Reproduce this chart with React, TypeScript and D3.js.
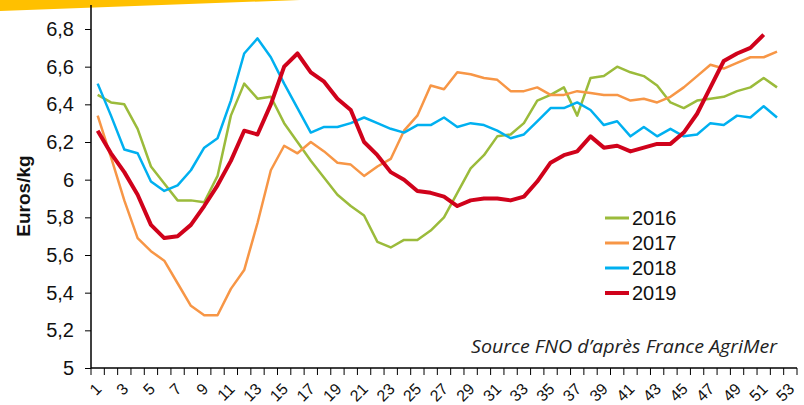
import { useEffect, useRef } from "react";
import * as d3 from "d3";

const weeks = [
  1, 2, 3, 4, 5, 6, 7, 8, 9, 10, 11, 12, 13, 14, 15, 16, 17, 18, 19, 20, 21, 22, 23, 24, 25, 26, 27,
  28, 29, 30, 31, 32, 33, 34, 35, 36, 37, 38, 39, 40, 41, 42, 43, 44, 45, 46, 47, 48, 49, 50, 51, 52, 53,
];
const yTicks = [5, 5.2, 5.4, 5.6, 5.8, 6, 6.2, 6.4, 6.6, 6.8];

const s2016 = [
  6.45, 6.41, 6.4, 6.27, 6.07, 5.98, 5.89, 5.89, 5.88, 6.02, 6.34, 6.51, 6.43, 6.44, 6.3, 6.2, 6.1,
  6.01, 5.92, 5.86, 5.81, 5.67, 5.64, 5.68, 5.68, 5.73, 5.8, 5.93, 6.06, 6.13, 6.23, 6.24, 6.3, 6.42,
  6.45, 6.49, 6.34, 6.54, 6.55, 6.6, 6.57, 6.55, 6.5, 6.41, 6.38, 6.42, 6.43, 6.44, 6.47, 6.49, 6.54, 6.49,
];
const s2017 = [
  6.34, 6.12, 5.89, 5.69, 5.62, 5.57, 5.45, 5.33, 5.28, 5.28, 5.42, 5.52, 5.77, 6.05, 6.18, 6.14, 6.2,
  6.15, 6.09, 6.08, 6.02, 6.07, 6.11, 6.26, 6.34, 6.5, 6.48, 6.57, 6.56, 6.54, 6.53, 6.47, 6.47, 6.49,
  6.45, 6.45, 6.47, 6.46, 6.45, 6.45, 6.42, 6.43, 6.41, 6.44, 6.49, 6.55, 6.61, 6.59, 6.62, 6.65, 6.65, 6.68,
];
const s2018 = [
  6.51, 6.34, 6.16, 6.14, 5.99, 5.94, 5.97, 6.05, 6.17, 6.22, 6.42, 6.67, 6.75, 6.65, 6.51, 6.38, 6.25,
  6.28, 6.28, 6.3, 6.33, 6.3, 6.27, 6.25, 6.29, 6.29, 6.33, 6.28, 6.3, 6.29, 6.26, 6.22, 6.24, 6.31,
  6.38, 6.38, 6.41, 6.37, 6.29, 6.31, 6.23, 6.28, 6.23, 6.27, 6.23, 6.24, 6.3, 6.29, 6.34, 6.33, 6.39, 6.33,
];
const s2019 = [
  6.26, 6.14, 6.04, 5.92, 5.76, 5.69, 5.7, 5.76, 5.86, 5.97, 6.1, 6.26, 6.24, 6.4, 6.6, 6.67, 6.57,
  6.52, 6.43, 6.37, 6.2, 6.13, 6.04, 6.0, 5.94, 5.93, 5.91, 5.86, 5.89, 5.9, 5.9, 5.89, 5.91, 5.99,
  6.09, 6.13, 6.15, 6.23, 6.17, 6.18, 6.15, 6.17, 6.19, 6.19, 6.25, 6.35, 6.49, 6.63, 6.67, 6.7, 6.77,
];

const seriesNames = ["2016", "2017", "2018", "2019"];
const seriesValues = [s2016, s2017, s2018, s2019];
const seriesColors = ["#9BBB3B", "#F79646", "#00B0F0", "#D0021B"];
const seriesWidths = [2.5, 2.5, 2.5, 4];

function App() {
  const chartRef = useRef<SVGSVGElement>(null);

  useEffect(() => {
    const width = 804;
    const height = 405;
    const svg = d3.select(chartRef.current);
    svg.selectAll("*").remove();
    svg.attr("width", width).attr("height", height);

    const font = "'Liberation Sans', Arial, sans-serif";

    // yellow banner top-left
    svg
      .append("path")
      .attr("d", "M0,0 L300,0 L0,11 Z")
      .attr("fill", "#FFC000");

    const x = d3
      .scaleBand<number>()
      .domain(weeks)
      .range([91, 797])
      .padding(0);
    const y = d3.scaleLinear().domain([5, 6.8]).range([368, 29]);

    // y axis
    const yAxis = d3
      .axisLeft(y)
      .tickValues(yTicks)
      .tickSize(6)
      .tickPadding(11)
      .tickSizeOuter(0)
      .tickFormat((d) => d3.format(".1~f")(d as number).replace(".", ","));
    const gy = svg.append("g").attr("transform", "translate(91,0)").call(yAxis);
    gy.select(".domain").remove();
    gy.selectAll("line").attr("stroke", "#000");
    gy.selectAll("text")
      .style("font-family", font)
      .style("font-size", "20px")
      .attr("fill", "#111");
    svg
      .append("line")
      .attr("x1", 91)
      .attr("x2", 91)
      .attr("y1", y(5))
      .attr("y2", 5)
      .attr("stroke", "#000")
      .attr("stroke-width", 1.5);

    // x axis: ticks at band boundaries, labels at centres
    const gx = svg.append("g");
    gx.append("line")
      .attr("x1", 91)
      .attr("x2", 797)
      .attr("y1", 368)
      .attr("y2", 368)
      .attr("stroke", "#000")
      .attr("stroke-width", 1.5);
    gx.selectAll("line.tick")
      .data(weeks)
      .enter()
      .append("line")
      .attr("class", "tick")
      .attr("x1", (d) => (x(d) as number) + x.bandwidth())
      .attr("x2", (d) => (x(d) as number) + x.bandwidth())
      .attr("y1", 368)
      .attr("y2", 375)
      .attr("stroke", "#000");
    gx.append("line")
      .attr("x1", 91)
      .attr("x2", 91)
      .attr("y1", 368)
      .attr("y2", 375)
      .attr("stroke", "#000");
    gx.selectAll("text")
      .data(weeks.filter((d) => d % 2 === 1))
      .enter()
      .append("text")
      .attr(
        "transform",
        (d) => `translate(${(x(d) as number) + x.bandwidth() / 2 + 5},${390}) rotate(-45)`
      )
      .attr("text-anchor", "end")
      .style("font-family", font)
      .style("font-size", "16px")
      .attr("fill", "#111")
      .text((d) => d);

    // y title
    svg
      .append("text")
      .attr("transform", "translate(30,196) rotate(-90)")
      .attr("text-anchor", "middle")
      .style("font-family", font)
      .style("font-size", "19px")
      .style("font-weight", "bold")
      .attr("fill", "#111")
      .text("Euros/kg");

    // lines
    const line = d3
      .line<number>()
      .x((d, i) => (x(weeks[i]) as number) + x.bandwidth() / 2)
      .y((d) => y(d));
    seriesValues.forEach((vals, k) => {
      svg
        .append("path")
        .datum(vals)
        .attr("fill", "none")
        .attr("stroke", seriesColors[k])
        .attr("stroke-width", seriesWidths[k])
        .attr("stroke-linejoin", "round")
        .attr("d", line);
    });

    // legend
    const lg = svg.append("g").attr("transform", "translate(605,218)");
    seriesNames.forEach((name, k) => {
      lg.append("line")
        .attr("x1", 0)
        .attr("x2", 24)
        .attr("y1", k * 25)
        .attr("y2", k * 25)
        .attr("stroke", seriesColors[k])
        .attr("stroke-width", k === 3 ? 4 : 3);
      lg.append("text")
        .attr("x", 27)
        .attr("y", k * 25 + 7)
        .style("font-family", font)
        .style("font-size", "20px")
        .attr("fill", "#111")
        .text(name);
    });

    // source
    svg
      .append("text")
      .attr("x", 777)
      .attr("y", 353)
      .attr("text-anchor", "end")
      .attr("textLength", 306)
      .attr("lengthAdjust", "spacingAndGlyphs")
      .style("font-family", "'Open Sans', sans-serif")
      .style("font-style", "italic")
      .style("font-size", "18px")
      .attr("fill", "#222")
      .text("Source FNO d\u2019apr\u00e8s France AgriMer");
  }, []);

  return (
    <svg
      ref={chartRef}
      style={{ position: "absolute", left: 0, top: 0, background: "#fff" }}
    ></svg>
  );
}

export default App;
